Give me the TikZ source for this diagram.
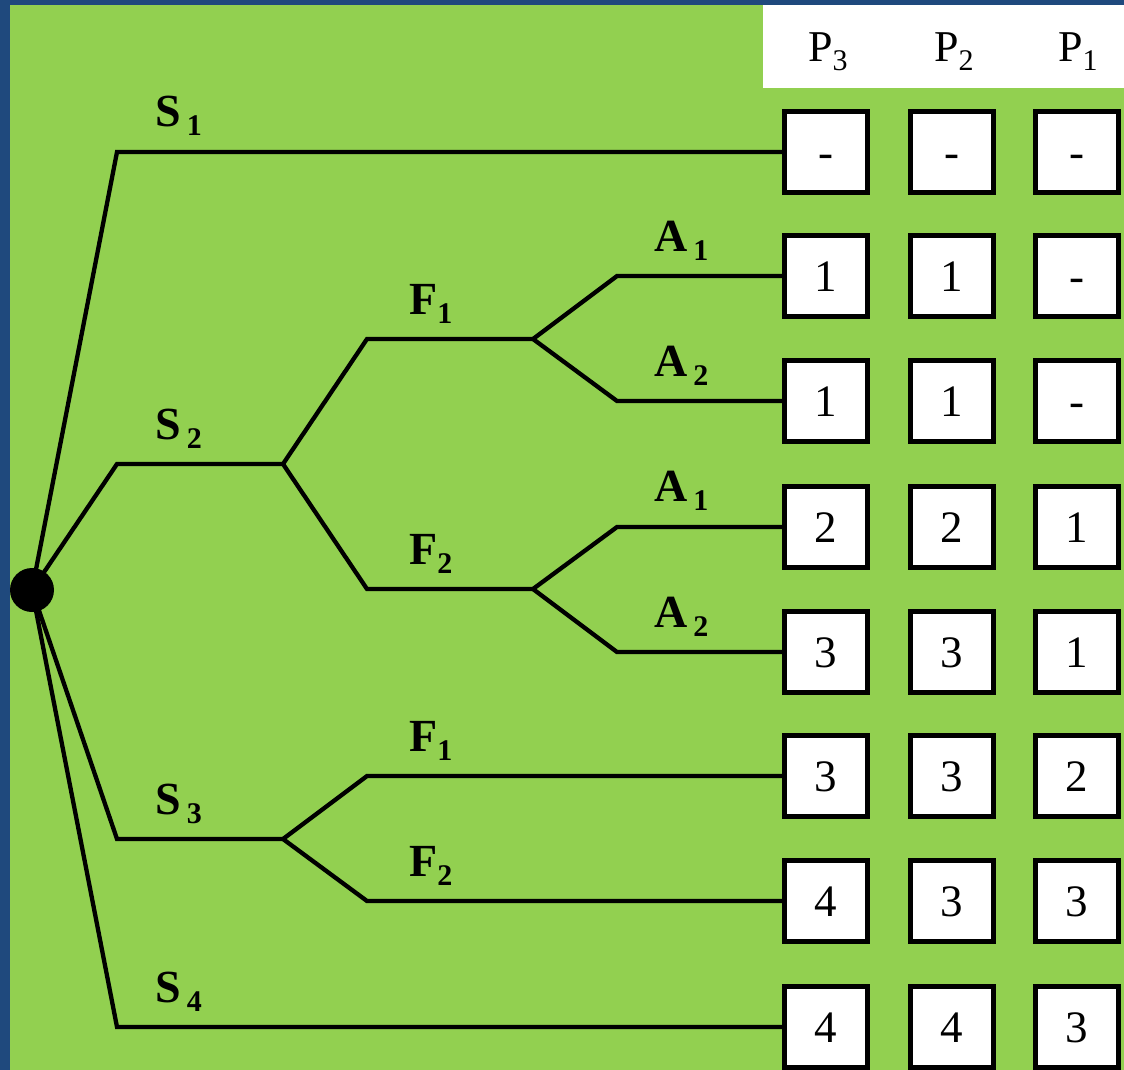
\documentclass[tikz,border=0pt]{standalone}
\usepackage{fontspec}
\setmainfont{Liberation Serif}

\definecolor{fond}{HTML}{92D050}
\definecolor{cadre}{HTML}{1F497D}

\tikzset{
  branche/.style={line width=4.3pt},
  case/.style={draw, fill=white, line width=5pt, minimum width=83pt,
    minimum height=81pt, inner sep=0pt, text height=31pt, text depth=0pt,
    font=\fontsize{45}{45}\selectfont},
  etiq/.style={anchor=base west, inner sep=0pt, font=\fontsize{46}{46}\selectfont\bfseries},
  entete/.style={anchor=base, inner sep=0pt, font=\fontsize{44}{44}\selectfont},
}
% indice abaisse (S_1, P_3 ...)
\newcommand{\ind}[1]{\raisebox{-9pt}{\fontsize{30}{30}\selectfont #1}}

\begin{document}
\begin{tikzpicture}[x=1pt,y=-1pt]

\useasboundingbox (0,0) rectangle (1124,1070);

% fond
\fill[cadre] (0,0) rectangle (1124,1070);
\fill[fond] (10,5) rectangle (1124,1070);
\fill[white] (763,5) rectangle (1124,88);

% en-tete des colonnes
\node[entete] (t3) at (828,62) {P\ind{3}};
\node[entete] (t2) at (954,62) {P\ind{2}};
\node[entete] (t1) at (1078,62) {P\ind{1}};

% cases
\foreach \y/\a/\b/\c [count=\i] in {152/-/-/-, 276/1/1/-, 401/1/1/-, 527/2/2/1,
    652/3/3/1, 776/3/3/2, 901/4/3/3, 1027/4/4/3} {
  \node[case] (p3-\i) at (826,\y) {\a};
  \node[case] (p2-\i) at (952,\y) {\b};
  \node[case] (p1-\i) at (1077,\y) {\c};
}

% arbre
\node[circle, fill, inner sep=0pt, minimum size=44pt] (R) at (32,590) {};

\coordinate (s1) at (117,152);
\coordinate (s2) at (117,464);
\coordinate (s3) at (117,839);
\coordinate (s4) at (117,1027);
\coordinate (n2) at (283,464);
\coordinate (n3) at (283,839);
\coordinate (f1) at (367,339);
\coordinate (f2) at (367,589);
\coordinate (g1) at (533,339);
\coordinate (g2) at (533,589);

\draw[branche] (R.center) -- (s1) -- (p3-1.west);
\draw[branche] (R.center) -- (s2) -- (n2);
\draw[branche] (R.center) -- (s3) -- (n3);
\draw[branche] (R.center) -- (s4) -- (p3-8.west);

\draw[branche] (n2) -- (f1) -- (g1);
\draw[branche] (n2) -- (f2) -- (g2);
\draw[branche] (g1) -- (617,276) -- (p3-2.west);
\draw[branche] (g1) -- (617,401) -- (p3-3.west);
\draw[branche] (g2) -- (617,527) -- (p3-4.west);
\draw[branche] (g2) -- (617,652) -- (p3-5.west);

\draw[branche] (n3) -- (367,776) -- (p3-6.west);
\draw[branche] (n3) -- (367,901) -- (p3-7.west);

% etiquettes
\node[etiq] (e-s1) at (155,127) {S\hspace{6pt}\ind{1}};
\node[etiq] (e-s2) at (155,439) {S\hspace{6pt}\ind{2}};
\node[etiq] (e-s3) at (155,814) {S\hspace{6pt}\ind{3}};
\node[etiq] (e-s4) at (155,1002) {S\hspace{6pt}\ind{4}};

\node[etiq] (e-f1) at (409,314) {F\ind{1}};
\node[etiq] (e-f2) at (409,564) {F\ind{2}};
\node[etiq] (e-f3) at (409,751) {F\ind{1}};
\node[etiq] (e-f4) at (409,876) {F\ind{2}};

\node[etiq] (e-a1) at (654,251) {A\hspace{6pt}\ind{1}};
\node[etiq] (e-a2) at (654,376) {A\hspace{6pt}\ind{2}};
\node[etiq] (e-a3) at (654,501) {A\hspace{6pt}\ind{1}};
\node[etiq] (e-a4) at (654,627) {A\hspace{6pt}\ind{2}};

\end{tikzpicture}
\end{document}
